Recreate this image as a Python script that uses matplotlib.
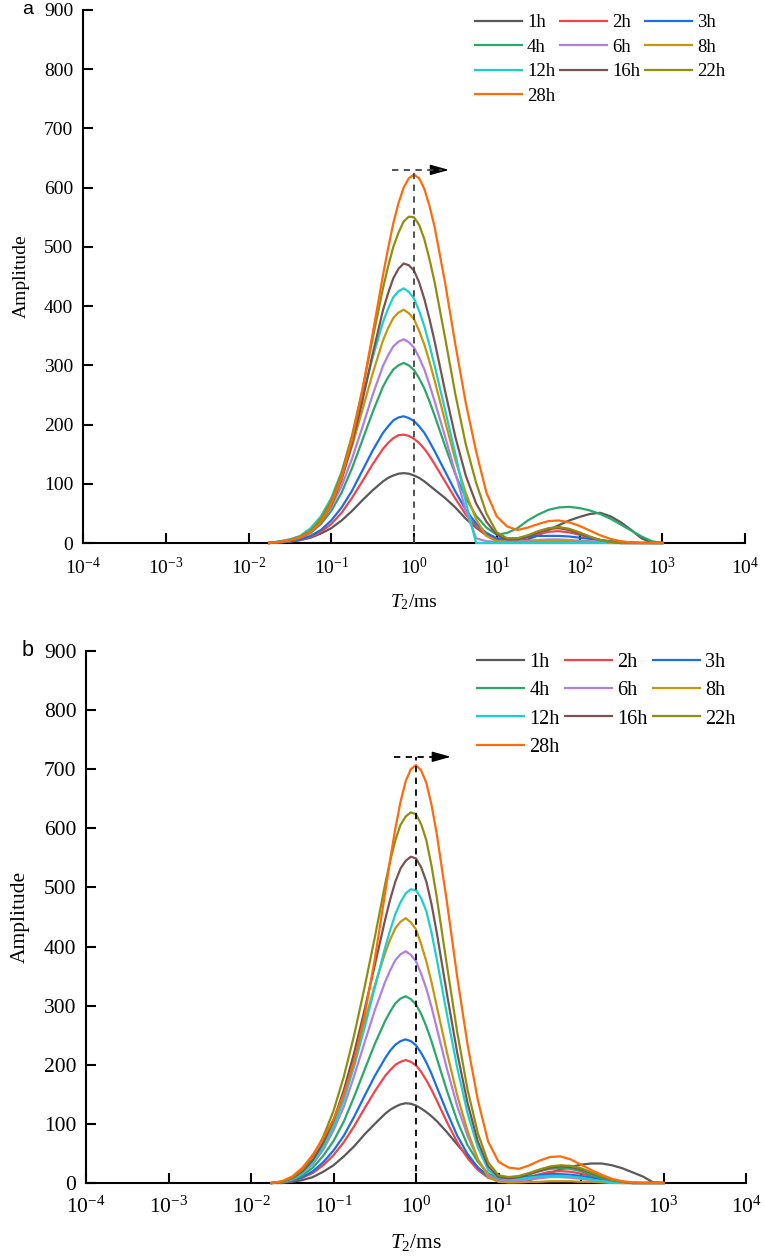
import numpy as np
import matplotlib
matplotlib.use("Agg")
import matplotlib.pyplot as plt

plt.rcParams['font.family'] = ['Liberation Serif', 'DejaVu Serif']
plt.rcParams['mathtext.fontset'] = 'custom'
plt.rcParams['mathtext.rm'] = 'Liberation Serif'
plt.rcParams['mathtext.it'] = 'Liberation Serif:italic'
plt.rcParams['axes.unicode_minus'] = False

# T2 grid (ms): log10 values, 1/8 decade apart, 1/16 decade around the main peak
log_t2 = [-1.75, -1.625, -1.5, -1.375, -1.25, -1.125, -1.0, -0.875, -0.75, -0.625, -0.5,
          -0.375, -0.3125, -0.25, -0.1875, -0.125, -0.0625, 0.0, 0.0625, 0.125, 0.1875,
          0.25, 0.375, 0.5, 0.625, 0.75, 0.875, 1.0, 1.125, 1.25, 1.375, 1.5, 1.625,
          1.75, 1.875, 2.0, 2.125, 2.25, 2.375, 2.5, 2.625, 2.75, 2.875, 3.0]
t2 = 10.0 ** np.array(log_t2)

labels = ['1h', '2h', '3h', '4h', '6h', '8h', '12h', '16h', '22h', '28h']
colors = ['#595959', '#f2434a', '#1a6fe8', '#2aa868', '#b07fe0',
          '#c8960c', '#1ccfcf', '#7b5252', '#8f8f0f', '#ff6a0a']

# panel a amplitudes
a_1h = [0, 1, 2, 5, 9, 16, 25, 38, 54, 72, 89,
        104, 110, 114, 117, 118, 117, 114, 110, 104, 97,
        90, 76, 60, 41, 26, 13, 4, 2, 3, 6, 13, 22,
        30, 38, 44, 49, 51, 45, 35, 22, 8, 0, 0]
a_2h = [0, 1, 3, 5, 10, 19, 32, 51, 76, 104, 133,
        159, 169, 177, 182, 183, 181, 176, 169, 159, 147,
        133, 104, 75, 48, 28, 14, 6, 4, 6, 10, 15, 19,
        20, 18, 14, 9, 5, 2, 1, 0, 0, 0, 0]
a_3h = [0, 1, 3, 6, 12, 22, 38, 60, 88, 122, 156,
        186, 197, 207, 212, 214, 211, 206, 197, 186, 171,
        155, 121, 87, 56, 33, 17, 8, 7, 8, 10, 12, 12,
        12, 11, 9, 7, 5, 3, 2, 1, 0, 0, 0]
a_4h = [0, 2, 4, 9, 17, 32, 54, 85, 126, 173, 221,
        264, 280, 293, 300, 304, 300, 292, 278, 261, 239,
        215, 164, 116, 76, 46, 26, 14, 17, 25, 38, 48, 56,
        60, 61, 59, 55, 49, 41, 31, 21, 11, 3, 0]
a_6h = [0, 2, 5, 10, 20, 36, 61, 96, 142, 195, 250,
        299, 317, 332, 340, 344, 339, 330, 313, 293, 267,
        239, 180, 118, 55, 8, 3, 2, 3, 3, 4, 5, 6,
        6, 5, 4, 3, 2, 1, 0, 0, 0, 0, 0]
a_8h = [0, 2, 6, 11, 22, 41, 70, 110, 163, 224, 286,
        342, 363, 380, 389, 394, 388, 378, 358, 335, 306,
        274, 206, 140, 85, 40, 12, 3, 2, 2, 2, 3, 3,
        3, 3, 2, 2, 1, 0, 0, 0, 0, 0, 0]
a_12h = [0, 3, 6, 12, 25, 45, 76, 120, 178, 244, 313,
         373, 396, 415, 425, 430, 424, 413, 392, 366, 334,
         299, 225, 150, 70, 0, 0, 0, 0, 0, 0, 0, 0,
         0, 0, 0, 0, 0, 0, 0, 0, 0, 0, 0]
a_16h = [0, 2, 4, 9, 18, 35, 64, 107, 167, 239, 319,
         393, 422, 447, 463, 472, 469, 460, 440, 412, 378,
         340, 257, 179, 114, 67, 36, 14, 6, 6, 11, 18, 24,
         25, 22, 16, 10, 5, 2, 0, 0, 0, 0, 0]
a_22h = [1, 2, 5, 11, 21, 41, 72, 118, 181, 258, 345,
         430, 467, 500, 524, 543, 551, 550, 537, 513, 479,
         440, 347, 251, 167, 102, 50, 18, 8, 8, 13, 20, 25,
         27, 24, 18, 11, 5, 2, 0, 0, 0, 0, 0]
a_28h = [0, 2, 4, 9, 18, 35, 65, 110, 174, 257, 353,
         452, 498, 540, 574, 600, 616, 622, 616, 598, 569,
         533, 440, 335, 237, 155, 85, 45, 28, 22, 26, 32, 37,
         38, 35, 29, 21, 13, 7, 3, 1, 0, 0, 0]

# panel b amplitudes
b_1h = [0, 0, 2, 5, 10, 19, 30, 45, 62, 82, 100,
        117, 124, 129, 133, 135, 134, 131, 126, 120, 113,
        105, 86, 65, 45, 26, 11, 3, 1, 2, 5, 10, 17,
        23, 27, 31, 33, 33, 30, 25, 18, 11, 1, 0]
b_2h = [0, 1, 4, 9, 17, 30, 47, 69, 96, 126, 155,
        181, 191, 200, 205, 208, 205, 199, 188, 174, 158,
        140, 103, 69, 42, 22, 9, 4, 4, 6, 10, 15, 19,
        20, 19, 16, 12, 7, 3, 1, 0, 0, 0, 0]
b_3h = [0, 1, 4, 10, 20, 35, 55, 80, 112, 147, 181,
        211, 224, 234, 240, 243, 240, 233, 220, 204, 185,
        163, 120, 80, 49, 26, 11, 6, 7, 9, 11, 13, 15,
        15, 14, 12, 9, 6, 3, 1, 0, 0, 0, 0]
b_4h = [0, 1, 5, 13, 26, 46, 71, 104, 146, 191, 235,
        274, 290, 304, 312, 316, 311, 302, 286, 265, 240,
        212, 156, 105, 64, 36, 16, 8, 8, 11, 15, 20, 24,
        25, 24, 20, 14, 8, 4, 1, 0, 0, 0, 0]
b_6h = [0, 2, 6, 16, 32, 56, 89, 129, 181, 237, 292,
        340, 360, 377, 387, 392, 386, 375, 354, 329, 298,
        263, 193, 130, 80, 40, 14, 4, 3, 4, 6, 8, 10,
        10, 9, 7, 5, 3, 1, 0, 0, 0, 0, 0]
b_8h = [0, 2, 7, 18, 37, 65, 101, 147, 207, 271, 334,
        389, 412, 431, 442, 448, 441, 429, 404, 375, 340,
        300, 221, 148, 88, 40, 10, 2, 1, 1, 2, 2, 3,
        3, 3, 2, 2, 1, 0, 0, 0, 0, 0, 0]
b_12h = [0, 2, 7, 17, 35, 60, 95, 140, 197, 262, 330,
         398, 428, 455, 475, 490, 497, 495, 482, 460, 424,
         380, 285, 195, 118, 60, 22, 8, 6, 7, 9, 11, 12,
         12, 11, 9, 6, 3, 1, 0, 0, 0, 0, 0]
b_16h = [0, 2, 8, 20, 39, 68, 106, 157, 220, 292, 368,
         445, 480, 510, 532, 545, 552, 549, 534, 510, 472,
         425, 320, 220, 135, 70, 28, 10, 8, 10, 15, 21, 26,
         28, 27, 23, 17, 10, 5, 2, 0, 0, 0, 0]
b_22h = [0, 2, 9, 23, 45, 78, 122, 180, 250, 330, 415,
         505, 545, 580, 606, 620, 627, 624, 607, 580, 537,
         485, 368, 255, 158, 84, 35, 13, 10, 12, 17, 23, 28,
         30, 29, 25, 18, 11, 5, 2, 0, 0, 0, 0]
b_28h = [0, 3, 11, 26, 48, 75, 108, 150, 205, 282, 378,
         490, 548, 600, 645, 680, 700, 707, 698, 677, 640,
         592, 475, 348, 234, 140, 70, 36, 26, 24, 30, 38, 44,
         45, 40, 31, 22, 14, 7, 3, 1, 0, 0, 0]

series_a = [a_1h, a_2h, a_3h, a_4h, a_6h, a_8h, a_12h, a_16h, a_22h, a_28h]
series_b = [b_1h, b_2h, b_3h, b_4h, b_6h, b_8h, b_12h, b_16h, b_22h, b_28h]

# peak marker: vertical dashed line at T2 = 1 ms, arrow pointing right
peak_t2 = 1.0
arrow_from = 0.54
arrow_to = 2.65
arrow_y_a = 630
arrow_y_b = 721

# legend filled row by row (matplotlib fills columns)
leg_order = [0, 3, 6, 9, 1, 4, 7, 2, 5, 8]

fig = plt.figure(figsize=(7.65, 12.59), dpi=100)
ax_a = fig.add_axes([83 / 765, 1 - 543 / 1259, 662 / 765, 533 / 1259])
ax_b = fig.add_axes([86 / 765, 1 - 1183 / 1259, 660 / 765, 532 / 1259])


def draw_panel(ax, series, arrow_y, dash_color, tag, fs, leg_fs, leg_hl, leg_ls, leg_top):
    lines = []
    for vals, lab, col in zip(series, labels, colors):
        ln, = ax.plot(t2, vals, color=col, lw=1.6, label=lab, clip_on=False, zorder=3)
        lines.append(ln)

    ax.plot([peak_t2, peak_t2], [0, arrow_y], ls=(0, (3.5, 3)), color=dash_color, lw=1.3, zorder=4)
    ax.plot([arrow_from, arrow_to * 0.82], [arrow_y, arrow_y], ls=(0, (3.5, 3)),
            color=dash_color, lw=1.3, zorder=4)
    ax.annotate('', xy=(arrow_to, arrow_y), xytext=(arrow_to * 0.8, arrow_y),
                arrowprops=dict(arrowstyle='-|>,head_length=1.15,head_width=0.32',
                                color='black', lw=1.0, shrinkA=0, shrinkB=0))

    ax.set_xscale('log')
    ax.set_xlim(1e-4, 1e4)
    ax.set_ylim(0, 900)
    ax.set_xticks([10.0 ** k for k in range(-4, 5)])
    ax.xaxis.set_minor_locator(matplotlib.ticker.NullLocator())
    ax.set_yticks(range(0, 901, 100))

    for s in ['top', 'right']:
        ax.spines[s].set_visible(False)
    for s in ['left', 'bottom']:
        ax.spines[s].set_linewidth(1.5)
    ax.tick_params(axis='both', direction='in', length=7, width=1.5, labelsize=fs)
    ax.tick_params(axis='y', pad=7)
    ax.tick_params(axis='x', pad=10)

    ax.set_ylabel('Amplitude', fontsize=fs, labelpad=10)
    ax.set_xlabel(r'$\mathit{T}_2$/ms', fontsize=fs, labelpad=10)

    ax.legend([lines[i] for i in leg_order], [labels[i] for i in leg_order],
              ncol=3, loc='upper left', bbox_to_anchor=(0.592, leg_top),
              frameon=False, fontsize=leg_fs, handlelength=leg_hl, handletextpad=0.28,
              columnspacing=0.25, labelspacing=leg_ls, borderpad=0, borderaxespad=0)

    fig.text(22 / 765, ax.get_position().y1, tag, fontsize=fs,
             family='Liberation Sans', va='center', ha='left')


draw_panel(ax_a, series_a, arrow_y_a, '#444444', 'a', 14, 13.5, 2.5, 0.39, 0.992)
draw_panel(ax_b, series_b, arrow_y_b, 'black', 'b', 15.5, 14.5, 2.33, 0.45, 0.996)

fig.savefig('out.png', dpi=100)
